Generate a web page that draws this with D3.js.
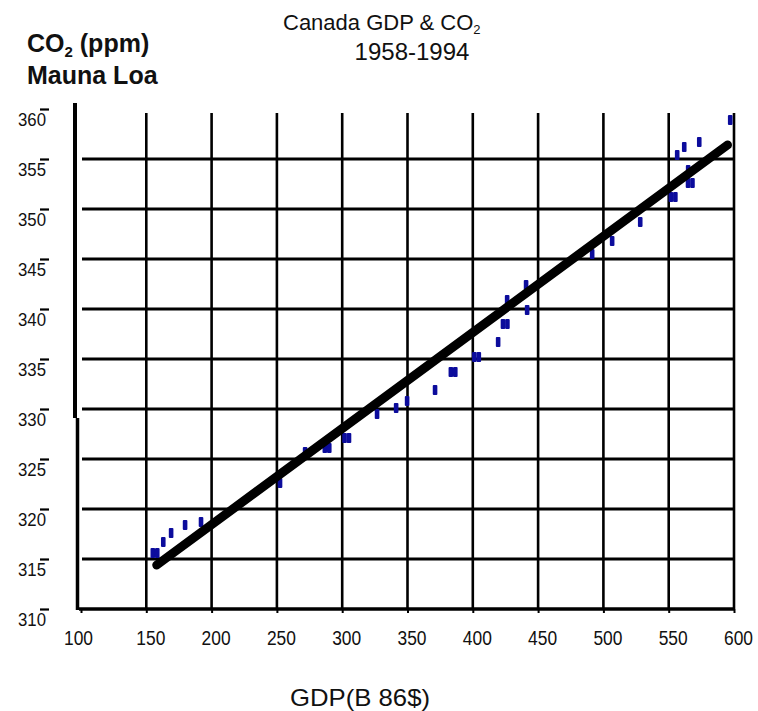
<!DOCTYPE html>
<html>
<head>
<meta charset="utf-8">
<script src="https://cdn.jsdelivr.net/npm/d3@7"></script>
<style>
  body { margin: 0; background: #fff; }
  svg { display: block; font-family: 'Liberation Sans', Arial, sans-serif; }
</style>
</head>
<body>
<script>
// tick labels
const xTicks = [100, 150, 200, 250, 300, 350, 400, 450, 500, 550, 600]
const yTicks = [310, 315, 320, 325, 330, 335, 340, 345, 350, 355, 360]

// GDP (B 86$) and Mauna Loa CO2 (ppm)
const gdp = [155, 158.4, 163, 169, 179.7, 191.9, 252.4, 271.6, 286.7, 290.1, 301.8, 305.2,
  326.7, 341.3, 349.7, 371.1, 383.2, 386.6, 401.2, 404.6, 419.4, 423.1, 426.5, 426.3,
  441.6, 440.8, 491.4, 506.7, 528.2, 551.7, 555.1, 564.8, 568.2, 564.9, 556.5,
  561.9, 573.4, 597.1]
const co2 = [315.6, 315.6, 316.7, 317.6, 318.4, 318.7, 322.6, 325.7, 326.1, 326.1, 327.1, 327.1,
  329.5, 330.1, 330.8, 331.9, 333.7, 333.7, 335.2, 335.2, 336.7, 338.5, 338.5, 340.9,
  339.9, 342.4, 345.5, 346.8, 348.7, 351.2, 351.2, 352.6, 352.6, 353.9, 355.4,
  356.2, 356.7, 358.9]

// fitted trend line end points
const fitGdp = [158, 595]
const fitCo2 = [314.4, 356.4]

const width = 758
const height = 711

const x = d3.scaleLinear().domain([100, 600]).range([81, 734])
const y = d3.scaleLinear().domain([310, 360]).range([609, 109])

const svg = d3.select('body').append('svg')
  .attr('width', width)
  .attr('height', height)

svg.append('rect')
  .attr('width', width)
  .attr('height', height)
  .attr('fill', '#fff')

// grid
const grid = svg.append('g').attr('stroke', '#000')

grid.selectAll('line.v')
  .data(xTicks.slice(1))
  .join('line')
  .attr('class', 'v')
  .attr('x1', d => x(d))
  .attr('x2', d => x(d))
  .attr('y1', y(360) + 4)
  .attr('y2', y(310))
  .attr('stroke-width', 2.6)

grid.selectAll('line.h')
  .data(yTicks.slice(1, -1))
  .join('line')
  .attr('class', 'h')
  .attr('x1', 82)
  .attr('x2', x(600) + 1)
  .attr('y1', d => y(d))
  .attr('y2', d => y(d))
  .attr('stroke-width', 3)

// y axis line (drawn in two pieces like the original)
grid.append('line')
  .attr('x1', 75).attr('x2', 75)
  .attr('y1', y(360) - 6).attr('y2', y(329.1))
  .attr('stroke-width', 4)
grid.append('line')
  .attr('x1', 77.5).attr('x2', 77.5)
  .attr('y1', y(329.1)).attr('y2', y(310) + 1)
  .attr('stroke-width', 3.5)

// bottom line
grid.append('line')
  .attr('x1', 79)
  .attr('x2', x(600) + 1)
  .attr('y1', y(310))
  .attr('y2', y(310))
  .attr('stroke-width', 3.5)

// x axis ticks + labels
const xAxis = svg.append('g')
  .attr('transform', `translate(0,${y(310)})`)
  .call(d3.axisBottom(x).tickValues(xTicks).tickSize(4).tickFormat(d3.format('d')))
xAxis.select('.domain').remove()
xAxis.selectAll('.tick line').attr('stroke-width', 2)
xAxis.selectAll('.tick text')
  .attr('y', 36)
  .attr('dy', 0)
  .attr('dx', d => (d === 100 ? -3 : 4))
  .attr('fill', '#111')
  .style('font-size', '20px')
  .style('font-family', "'Liberation Sans', Arial, sans-serif")
  .attr('textLength', 29)
  .attr('lengthAdjust', 'spacingAndGlyphs')

// y axis labels with the small marks to their right
const yAxis = svg.append('g')
  .attr('transform', 'translate(49,0)')
  .call(d3.axisLeft(y).tickValues(yTicks).tickSize(9).tickPadding(-6))
yAxis.select('.domain').remove()
yAxis.selectAll('.tick line').attr('stroke-width', 2.2)
yAxis.selectAll('.tick text')
  .attr('dy', 0)
  .attr('y', 16)
  .attr('fill', '#111')
  .style('font-size', '19px')
  .style('font-family', "'Liberation Sans', Arial, sans-serif")
  .attr('textLength', 28)
  .attr('lengthAdjust', 'spacingAndGlyphs')

// data marks
const points = gdp.map((g, i) => ({ g, v: co2[i] }))
svg.append('g')
  .attr('fill', '#0c0c9c')
  .selectAll('rect')
  .data(points)
  .join('rect')
  .attr('x', d => x(d.g) - 2.3)
  .attr('y', d => y(d.v) - 5)
  .attr('width', 4.6)
  .attr('height', 10)
  .attr('rx', 1)

// trend line
svg.append('line')
  .attr('x1', x(fitGdp[0]))
  .attr('y1', y(fitCo2[0]))
  .attr('x2', x(fitGdp[1]))
  .attr('y2', y(fitCo2[1]))
  .attr('stroke', '#000')
  .attr('stroke-width', 9)
  .attr('stroke-linecap', 'round')

// titles
const title = svg.append('text')
  .attr('x', 283)
  .attr('y', 30)
  .style('font-size', '22px')
  .attr('fill', '#111')
title.append('tspan').text('Canada GDP & CO')
title.append('tspan').attr('dy', 4).style('font-size', '13px').text('2')

svg.append('text')
  .attr('x', 412)
  .attr('y', 60)
  .attr('text-anchor', 'middle')
  .style('font-size', '24px')
  .attr('fill', '#111')
  .text('1958-1994')

const yTitle = svg.append('text')
  .attr('x', 27)
  .attr('y', 52)
  .style('font-size', '25px')
  .style('font-weight', 'bold')
  .attr('fill', '#111')
yTitle.append('tspan').text('CO')
yTitle.append('tspan').attr('dy', 5).style('font-size', '15px').text('2')
yTitle.append('tspan').attr('dy', -5).text(' (ppm)')

svg.append('text')
  .attr('x', 27)
  .attr('y', 84)
  .style('font-size', '25px')
  .style('font-weight', 'bold')
  .attr('fill', '#111')
  .text('Mauna Loa')

svg.append('text')
  .attr('x', 290)
  .attr('y', 706)
  .style('font-size', '24px')
  .attr('fill', '#111')
  .attr('textLength', 140)
  .attr('lengthAdjust', 'spacingAndGlyphs')
  .text('GDP(B 86$)')
</script>
</body>
</html>
